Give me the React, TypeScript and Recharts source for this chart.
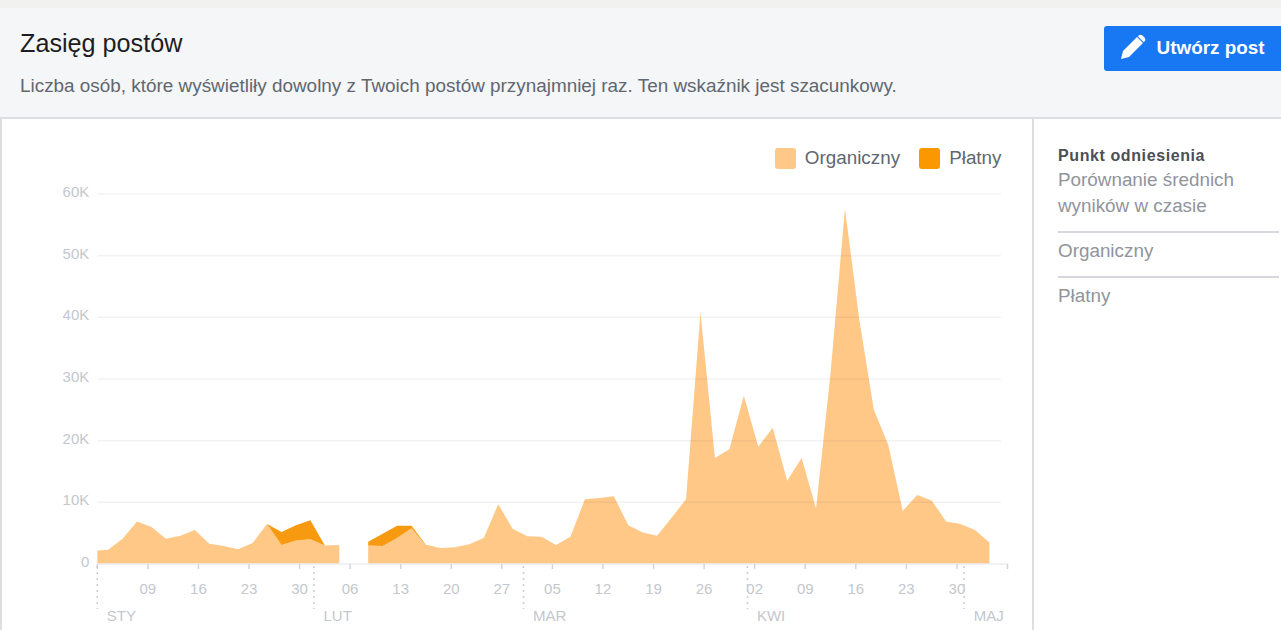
import { Area, AreaChart, Legend, ReferenceLine, XAxis, YAxis } from "recharts";

// x position in days since 31 Dec (2020 calendar), the series is sampled every two days
const days = [
	2, 3.5, 5.5, 7.5, 9.5, 11.5, 13.5, 15.5, 17.5, 19.5, 21.5, 23.5, 25.5, 27.5, 29.5, 31.5, 33.5, 35.5, 37.5, 39.5, 41.5,
	43.5, 45.5, 47.5, 49.5, 51.5, 53.5, 55.5, 57.5, 59.5, 61.5, 63.5, 65.5, 67.5, 69.5, 71.5, 73.5, 75.5, 77.5, 79.5,
	81.5, 83.5, 85.5, 87.5, 89.5, 91.5, 93.5, 95.5, 97.5, 99.5, 101.5, 103.5, 105.5, 107.5, 109.5, 111.5, 113.5, 115.5,
	117.5, 119.5, 121.5, 123.5, 125.5,
];
const organic = [
	2200, 2300, 4100, 6900, 6000, 4100, 4600, 5500, 3300, 2900, 2400, 3400, 6500, 3100, 3800, 4000, 3000, 3100, null, 3000,
	2900, 4200, 5800, 3000, 2600, 2700, 3200, 4200, 9700, 5700, 4500, 4400, 3100, 4400, 10500, 10700, 11000, 6300, 5100,
	4600, 7500, 10500, 40800, 17200, 18600, 27300, 19000, 22100, 13500, 17200, 9000, 30900, 57600, 39500, 25000, 19300,
	8600, 11200, 10300, 6900, 6500, 5500, 3500,
];
const paid = [
	0, 0, 0, 0, 0, 0, 0, 0, 0, 0, 0, 0, 0, 2100, 2500, 3100, 0, 0, null, 600, 2000, 2000, 400, 100, 0, 0, 0, 0, 0, 0, 0, 0,
	0, 0, 0, 0, 0, 0, 0, 0, 0, 0, 0, 0, 0, 0, 0, 0, 0, 0, 0, 0, 0, 0, 0, 0, 0, 0, 0, 0, 0,
];
const weekTicks = [2, 9, 16, 23, 30, 37, 44, 51, 58, 65, 72, 79, 86, 93, 100, 107, 114, 121, 128];
const weekLabels = ["", "09", "16", "23", "30", "06", "13", "20", "27", "05", "12", "19", "26", "02", "09", "16", "23", "30", ""];
const monthTicks = [2, 32, 61, 92, 122];
const monthLabels = ["STY", "LUT", "MAR", "KWI", "MAJ"];
const yTicks = [0, 10000, 20000, 30000, 40000, 50000, 60000];
const yLabels = ["0", "10K", "20K", "30K", "40K", "50K", "60K"];

const chartData = days.map((day, i) => ({ day, organic: organic[i], paid: paid[i] }));

const FONT = '"Liberation Sans", Arial, sans-serif';
const AXIS_TEXT = "#c4c7ce";

function WeekTick({ x, y, payload }: any) {
	const label = weekLabels[weekTicks.indexOf(payload.value)];
	return (
		<text x={x} y={y + 23} textAnchor="middle" fontSize={15} fill={AXIS_TEXT} fontFamily={FONT}>
			{label}
		</text>
	);
}

function MonthTick({ x, y, payload }: any) {
	const label = monthLabels[monthTicks.indexOf(payload.value)];
	return (
		<g>
			<line x1={x} x2={x} y1={y - 7} y2={y + 36} stroke="#c9ccd2" strokeWidth={1.5} strokeDasharray="2 4" />
			<text x={x + 9.5} y={y + 47.5} fontSize={15} fill={AXIS_TEXT} fontFamily={FONT}>
				{label}
			</text>
		</g>
	);
}

function ValueTick({ x, y, payload }: any) {
	return (
		<text x={x} y={y + 3} textAnchor="end" fontSize={15} fill={AXIS_TEXT} fontFamily={FONT}>
			{yLabels[yTicks.indexOf(payload.value)]}
		</text>
	);
}

function ChartLegend() {
	const items = [
		{ label: "Organiczny", color: "#fdc888" },
		{ label: "Płatny", color: "#fb9800" },
	];
	return (
		<div style={{ display: "flex", justifyContent: "flex-end", fontFamily: FONT, fontSize: 18.85, color: "#606770" }}>
			{items.map((item) => (
				<div key={item.label} style={{ display: "flex", alignItems: "center", marginLeft: 19, height: 20 }}>
					<span
						style={{ width: 21, height: 21, borderRadius: 3, background: item.color, marginRight: 9, display: "block" }}
					/>
					{item.label}
				</div>
			))}
		</div>
	);
}

export default function App() {
	return (
		<div
			style={{
				position: "fixed",
				left: 0,
				top: 0,
				width: 1281,
				height: 630,
				overflow: "hidden",
				background: "#fff",
				fontFamily: FONT,
			}}
		>
			<div style={{ position: "absolute", left: 0, top: 0, width: 1281, height: 8, background: "#f1f1ef" }} />
			<div
				style={{
					position: "absolute",
					left: 0,
					top: 8,
					width: 1281,
					height: 111,
					background: "#f5f6f8",
					borderBottom: "2px solid #dddfe2",
					boxSizing: "border-box",
				}}
			/>
			<div style={{ position: "absolute", left: 0, top: 118, width: 2, height: 512, background: "#dddfe2" }} />
			<div style={{ position: "absolute", left: 1032, top: 118, width: 2, height: 512, background: "#dddfe2" }} />
			<div style={{ position: "absolute", left: 20, top: 29, fontSize: 25.2, lineHeight: "28px", color: "#1c1e21" }}>
				Zasięg postów
			</div>
			<div style={{ position: "absolute", left: 20, top: 76, fontSize: 18.9, lineHeight: "20px", color: "#606770", whiteSpace: "nowrap" }}>
				Liczba osób, które wyświetliły dowolny z Twoich postów przynajmniej raz. Ten wskaźnik jest szacunkowy.
			</div>
			<div
				style={{
					position: "absolute",
					left: 1104,
					top: 26,
					width: 177,
					height: 45,
					background: "#1877f2",
					borderRadius: "3px 0 0 3px",
				}}
			>
				<svg width="26" height="26" viewBox="0 0 26 26" style={{ position: "absolute", left: 16, top: 8 }}>
					<path d="M1 25 L3 17 L17 3 L23 9 L9 23 Z" fill="#fff" />
					<path d="M18.5 1.5 Q20.5 0 22.5 1.5 L24.5 3.5 Q26 5.5 24.5 7.5 L23.5 8 L18 2.5 Z" fill="#fff" />
				</svg>
				<span
					style={{
						position: "absolute",
						left: 52.5,
						top: 11,
						fontSize: 18.9,
						lineHeight: "22px",
						fontWeight: 700,
						color: "#fff",
						whiteSpace: "nowrap",
					}}
				>
					Utwórz post
				</span>
			</div>

			<div style={{ position: "absolute", left: 0, top: 118 }}>
				<AreaChart
					width={1032}
					height={512}
					data={chartData}
					margin={{ top: 56, right: 24.5, bottom: 0, left: 37.3 }}
				>
					<XAxis
						xAxisId="days"
						dataKey="day"
						type="number"
						domain={[2, 128]}
						ticks={weekTicks}
						height={1}
						interval={0}
						tick={WeekTick}
						tickSize={5}
						tickLine={{ stroke: "#d3d5da", strokeWidth: 1.5 }}
						axisLine={{ stroke: "#eceef0", strokeWidth: 1.5 }}
					/>
					<XAxis
						xAxisId="months"
						dataKey="day"
						type="number"
						domain={[2, 128]}
						ticks={monthTicks}
						height={65}
						interval={0}
						tick={MonthTick}
						tickLine={false}
						axisLine={false}
					/>
					<YAxis
						type="number"
						domain={[0, 60000]}
						ticks={yTicks}
						width={60}
						interval={0}
						tick={ValueTick}
						tickLine={false}
						axisLine={false}
					/>
					<Legend
						verticalAlign="top"
						content={ChartLegend}
						wrapperStyle={{ position: "absolute", top: 30, left: 700, width: 301.5 }}
					/>
					{yTicks.slice(1).map((value) => (
						<ReferenceLine
							key={value}
							xAxisId="days"
							segment={[
								{ x: 2, y: value },
								{ x: 127.1, y: value },
							]}
							stroke="rgba(0,0,0,0.05)"
							strokeWidth={1.5}
						/>
					))}
					<Area
						xAxisId="days"
						dataKey="organic"
						stackId="reach"
						type="linear"
						stroke="none"
						fill="#ff9210"
						fillOpacity={0.5}
						isAnimationActive={false}
						dot={false}
						activeDot={false}
					/>
					<Area
						xAxisId="days"
						dataKey="paid"
						stackId="reach"
						type="linear"
						stroke="none"
						fill="#f89a10"
						fillOpacity={1}
						isAnimationActive={false}
						dot={false}
						activeDot={false}
					/>
				</AreaChart>
			</div>

			<div style={{ position: "absolute", left: 1058, top: 146, fontSize: 16, lineHeight: "20px", color: "#4b4f56", fontWeight: 700, letterSpacing: 0.6, whiteSpace: "nowrap" }}>
				Punkt odniesienia
			</div>
			<div style={{ position: "absolute", left: 1058, top: 167, fontSize: 18.85, lineHeight: "25.5px", color: "#90949c", whiteSpace: "nowrap" }}>
				Porównanie średnich
				<br />
				wyników w czasie
			</div>
			<div style={{ position: "absolute", left: 1058, top: 231, width: 221, height: 2, background: "#d5d7dc" }} />
			<div style={{ position: "absolute", left: 1058, top: 238, fontSize: 18.85, lineHeight: "25px", color: "#90949c" }}>
				Organiczny
			</div>
			<div style={{ position: "absolute", left: 1058, top: 276, width: 221, height: 2, background: "#d5d7dc" }} />
			<div style={{ position: "absolute", left: 1058, top: 283, fontSize: 18.85, lineHeight: "25px", color: "#90949c" }}>
				Płatny
			</div>
		</div>
	);
}
